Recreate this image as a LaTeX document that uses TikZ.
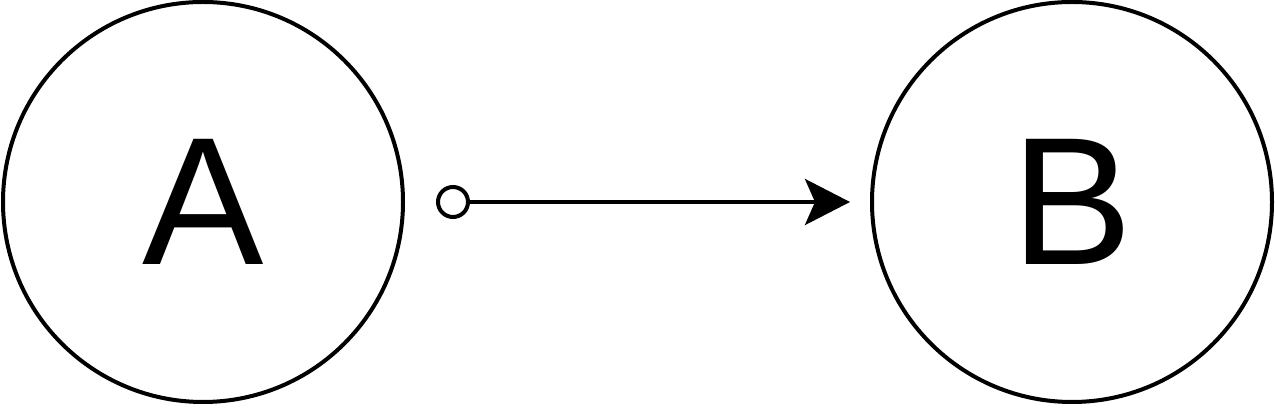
\documentclass[tikz,border=0pt]{standalone}
\usepackage{fontspec}
\setmainfont{Liberation Sans}
\usetikzlibrary{arrows.meta}

\begin{document}
\begin{tikzpicture}[x=0.5pt,y=-0.5pt,
  bigcirc/.style={draw,circle,line width=2pt,minimum size=200pt,inner sep=0pt,font=\fontsize{91}{91}\selectfont},
  port/.style={draw,circle,line width=2pt,minimum size=15pt,inner sep=0pt}]
\useasboundingbox (0,0) rectangle (1275,410);
\node[bigcirc] (A) at (203,202) {A};
\node[bigcirc] (B) at (1072,202) {B};
\node[port] (src) at (453,202) {};
\draw[line width=2pt,-{Stealth[length=22.5pt,width=23pt,inset=5pt]},shorten >=10pt] (src) -- (B);
\end{tikzpicture}
\end{document}
